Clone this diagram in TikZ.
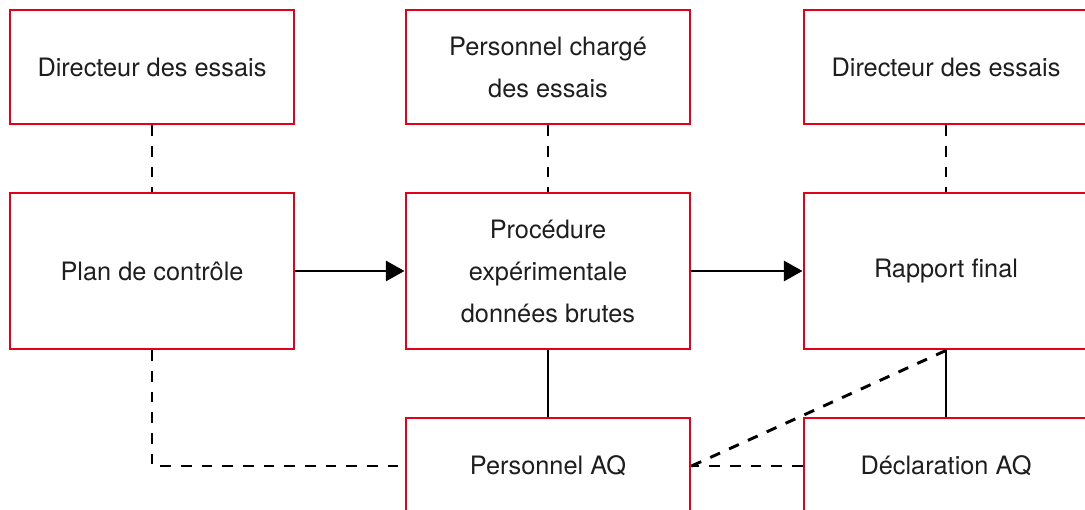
\documentclass[tikz,border=0pt]{standalone}
\usepackage{fontspec}
\setmainfont{TeX Gyre Heros}
\usetikzlibrary{arrows.meta}
\definecolor{boxred}{HTML}{E2001A}
\definecolor{txtgray}{HTML}{1E1E1E}

\begin{document}
\begin{tikzpicture}[x=0.75pt, y=-0.75pt, -, >={Triangle[length=14pt, width=15pt]}, line width=2.2pt,
    main/.style = {draw=boxred, line width=2.2pt, rectangle, minimum width=213pt, text=txtgray, align=center,
                   font=\fontsize{19}{31.5}\selectfont},
    top/.style = {main, minimum height=85.5pt},
    mid/.style = {main, minimum height=117pt},
    low/.style = {main, minimum height=72pt},
    link/.style = {dashed, dash pattern=on 8pt off 7.5pt}]
    \path[use as bounding box, clip] (0,0) rectangle (1085,510);
    % Nodes

    \node[top] (1) at (152, 67) {Directeur des essais};
    \node[top] (2) at (548, 67) {Personnel chargé\\des essais};
    \node[top] (3) at (946, 67) {Directeur des essais};
    \node[mid] (4) at (152, 271) {Plan de contrôle};
    \node[mid] (5) at (548, 271) {Procédure\\expérimentale\\données brutes};
    \node[mid] (6) at (946, 271) {Rapport final};
    \node[low] (7) at (548, 466) {Personnel AQ};
    \node[low] (8) at (946, 466) {Déclaration AQ};

    % Edges
    \draw[link] (1) -- (4);
    \draw[link] (2) -- (5);
    \draw[link] (3) -- (6);
    \draw[->] (4) -- (5);
    \draw[->] (5) -- (6);
    \draw (5) -- (7);
    \draw (6) -- (8);
    \draw[link] (4) |- (7);
    \draw[link] (8) -- (7);
    \draw[link] (7.east) -- (6.south);
\end{tikzpicture}
\end{document}
